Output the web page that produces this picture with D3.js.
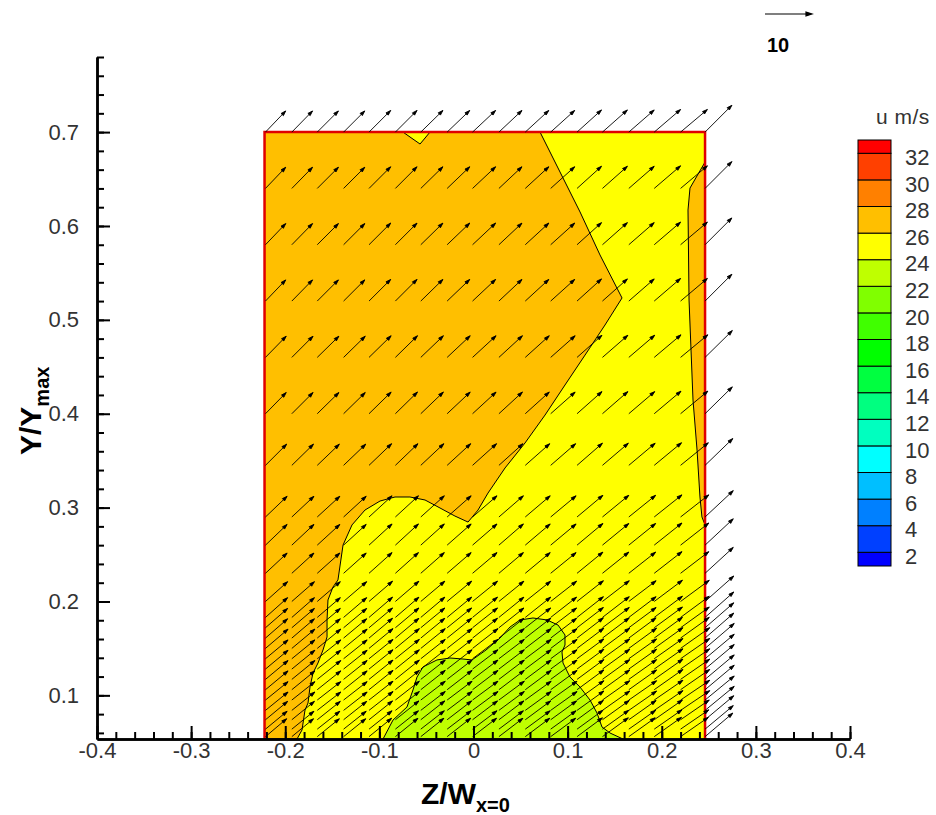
<!DOCTYPE html>
<html>
<head>
<meta charset="utf-8">
<script src="https://cdn.jsdelivr.net/npm/d3@7"></script>
<style>
  body { margin: 0; background: #fff; }
  svg { display: block; font-family: "Liberation Sans", Arial, sans-serif; }
  .narrow { font-family: "Liberation Sans Narrow", "Arial Narrow", "Liberation Sans", sans-serif; }
</style>
</head>
<body>
<script>
'use strict';

var width = 936, height = 815;

// legend levels (u, m/s) and band colours, lowest band first
var levels = [2, 4, 6, 8, 10, 12, 14, 16, 18, 20, 22, 24, 26, 28, 30, 32];
var bandColors = ["#0000ff", "#0040ff", "#0080ff", "#00bfff", "#00ffff", "#00ffbf", "#00ff80", "#00ff40",
  "#00ff00", "#40ff00", "#80ff00", "#bfff00", "#ffff00", "#ffbf00", "#ff8000", "#ff4000", "#ff0000"];

var xTicks = [-0.4, -0.3, -0.2, -0.1, 0, 0.1, 0.2, 0.3, 0.4];
var yTicks = [0.1, 0.2, 0.3, 0.4, 0.5, 0.6, 0.7];

// measured plane: Z/W from -0.222 to 0.246, Y/Ymax up to 0.70
var planeZ = [-0.222, 0.246];
var planeY = [0.0535, 0.70];
var baseU = 25;

// contour bands, [z, y]
var amberMain = [[0.0707, 0.70], [0.0919, 0.6575], [0.1132, 0.6149], [0.1344, 0.5691], [0.1578, 0.5233],
  [0.1397, 0.4945], [0.1185, 0.4625], [0.0972, 0.4306], [0.0760, 0.3986], [0.0547, 0.3688],
  [0.0335, 0.3422], [0.0154, 0.3155], [0.0048, 0.2974], [-0.0058, 0.2846], [-0.0197, 0.291],
  [-0.0356, 0.2996], [-0.0515, 0.3081], [-0.0675, 0.3113], [-0.0834, 0.3113], [-0.0993, 0.307],
  [-0.1153, 0.2974], [-0.1291, 0.2815], [-0.1386, 0.2601], [-0.144, 0.2229], [-0.1493, 0.2154],
  [-0.1546, 0.2016], [-0.1556, 0.1803], [-0.1556, 0.1622], [-0.1599, 0.1483], [-0.1652, 0.1345],
  [-0.1705, 0.1238], [-0.1737, 0.1089], [-0.1758, 0.0918], [-0.179, 0.0844], [-0.1822, 0.0631],
  [-0.1875, 0.0535], [-0.222, 0.0535], [-0.222, 0.70]];
var amberEdge = [[0.246, 0.6681], [0.2300, 0.6404], [0.2279, 0.617], [0.2290, 0.5211], [0.2332, 0.4146],
  [0.2375, 0.3613], [0.2406, 0.3113], [0.2427, 0.29], [0.246, 0.2815]];
var yellowNotch = [[-0.0749, 0.70], [-0.0462, 0.70], [-0.0568, 0.6873]];
var greenCore = [[-0.0961, 0.0535], [-0.0855, 0.0737], [-0.0707, 0.0876], [-0.0643, 0.1057], [-0.06, 0.1195],
  [-0.0537, 0.1302], [-0.0388, 0.1377], [-0.025, 0.1398], [-0.0112, 0.1387], [-0.0016, 0.1377],
  [0.0133, 0.1483], [0.0282, 0.1611], [0.0388, 0.1728], [0.0494, 0.1803], [0.0632, 0.1824],
  [0.0781, 0.1803], [0.0898, 0.1749], [0.0972, 0.1643], [0.0972, 0.1536], [0.094, 0.1462],
  [0.0951, 0.1345], [0.1025, 0.1195], [0.1131, 0.1089], [0.1238, 0.095], [0.1312, 0.0812],
  [0.1365, 0.0663], [0.145, 0.0599], [0.1588, 0.0535]];

var bands = [
  { u: 27, pts: amberMain },
  { u: 27, pts: amberEdge },
  { u: 25, pts: yellowNotch },
  { u: 23, pts: greenCore }
];

// vector grid: column positions and row positions
var colZ = [-0.221, -0.193, -0.166, -0.138, -0.111, -0.083, -0.056, -0.028, -0.001,
  0.027, 0.055, 0.082, 0.110, 0.137, 0.165, 0.192, 0.220, 0.246];
var rowY = [0.70, 0.64, 0.58, 0.52, 0.46, 0.40, 0.345, 0.29, 0.26, 0.23, 0.20, 0.183, 0.172,
  0.161, 0.150, 0.139, 0.128, 0.117, 0.106, 0.095, 0.084, 0.074, 0.064, 0.056];
// in-plane velocity (w, v) along the left side of each row, m/s
var rowW = [4.3, 4.3, 4.3, 4.3, 4.4, 4.4, 4.5, 4.6, 4.6, 4.6, 4.7, 4.7, 4.7, 4.7, 4.8, 4.8,
  4.8, 4.8, 4.8, 4.8, 4.8, 4.7, 4.6, 4.5];
var rowV = [4.5, 4.5, 4.5, 4.5, 4.5, 4.5, 4.5, 4.4, 4.4, 4.3, 4.2, 4.2, 4.1, 4.1, 4.1, 4.0,
  4.0, 4.0, 4.0, 3.9, 3.9, 3.9, 3.8, 3.8];
// extra w and v picked up across the columns
var colW = [0, 0.1, 0.2, 0.2, 0.3, 0.3, 0.4, 0.5, 0.6, 0.6, 0.7, 0.8, 0.9, 1.0, 1.1, 1.3, 1.4, 1.4];
var colV = [0, 0, 0, 0, 0.1, 0.1, 0.1, 0.1, 0.1, 0.1, 0.1, 0.1, 0.2, 0.2, 0.2, 0.3, 0.3, 1.2];

var refVector = 10;

var x = d3.scaleLinear().domain([-0.4, 0.4]).range([97, 850]);
var y = d3.scaleLinear().domain([0.0535, 0.78]).range([739, 57]);
var arrowLen = d3.scaleLinear().domain([0, 10]).range([0, 47]);
var color = d3.scaleThreshold().domain(levels).range(bandColors);

var svg = d3.select("body").append("svg")
  .attr("width", width)
  .attr("height", height);

svg.append("clipPath").attr("id", "plane")
  .append("rect")
  .attr("x", x(planeZ[0]))
  .attr("y", y(planeY[1]))
  .attr("width", x(planeZ[1]) - x(planeZ[0]))
  .attr("height", y(planeY[0]) - y(planeY[1]));

var plane = svg.append("g").attr("clip-path", "url(#plane)");

plane.append("rect")
  .attr("x", x(planeZ[0]))
  .attr("y", y(planeY[1]))
  .attr("width", x(planeZ[1]) - x(planeZ[0]))
  .attr("height", y(planeY[0]) - y(planeY[1]))
  .attr("fill", color(baseU));

var line = d3.line()
  .x(function(d) { return x(d[0]); })
  .y(function(d) { return y(d[1]); })
  .curve(d3.curveLinearClosed);

plane.selectAll(".band")
  .data(bands)
  .enter()
  .append("path")
  .attr("class", "band")
  .attr("d", function(d) { return line(d.pts); })
  .attr("fill", function(d) { return color(d.u); })
  .attr("stroke", "#000")
  .attr("stroke-width", 1);

// red outline of the measured plane (left, top, right)
svg.append("path")
  .attr("d", "M" + x(planeZ[0]) + "," + y(planeY[0])
    + "V" + y(planeY[1]) + "H" + x(planeZ[1]) + "V" + y(planeY[0]))
  .attr("fill", "none")
  .attr("stroke", "#e00000")
  .attr("stroke-width", 2.5);

// vectors
function arrowPath(x0, y0, x1, y1, head) {
  var a = Math.atan2(y1 - y0, x1 - x0);
  var bx = x1 - head * Math.cos(a), by = y1 - head * Math.sin(a);
  var px = -Math.sin(a) * head * 0.32, py = Math.cos(a) * head * 0.32;
  return "M" + x0 + "," + y0 + "L" + x1 + "," + y1
    + "M" + x1 + "," + y1 + "L" + (bx + px) + "," + (by + py)
    + "L" + (bx - px) + "," + (by - py) + "Z";
}

var vectors = [];
rowY.forEach(function(yy, i) {
  colZ.forEach(function(zz, j) {
    vectors.push({ z: zz, y: yy, w: rowW[i] + colW[j], v: rowV[i] + colV[j] });
  });
});

svg.append("g").selectAll("path")
  .data(vectors)
  .enter()
  .append("path")
  .attr("d", function(d) {
    var x0 = x(d.z), y0 = y(d.y);
    return arrowPath(x0, y0, x0 + arrowLen(d.w), y0 - arrowLen(d.v), 5);
  })
  .attr("fill", "#000")
  .attr("stroke", "#000")
  .attr("stroke-width", 0.9);

// axes, ticks pointing inward
function fmt(d) { return d === 0 ? "0" : String(d); }
var minorX = d3.range(-40, 41, 2).map(function(d) { return d / 100; });
var minorY = d3.range(6, 79, 2).map(function(d) { return d / 100; });

var xMinor = svg.append("g").attr("transform", "translate(0,739)")
  .call(d3.axisBottom(x).tickValues(minorX).tickSize(-7).tickSizeOuter(0).tickFormat(""));
var yMinor = svg.append("g").attr("transform", "translate(97,0)")
  .call(d3.axisLeft(y).tickValues(minorY).tickSize(-7).tickSizeOuter(0).tickFormat(""));
var xAxis = svg.append("g").attr("transform", "translate(0,739)")
  .call(d3.axisBottom(x).tickValues(xTicks).tickSize(-13).tickSizeOuter(0).tickPadding(3).tickFormat(fmt));
var yAxis = svg.append("g").attr("transform", "translate(97,0)")
  .call(d3.axisLeft(y).tickValues(yTicks).tickSize(-13).tickSizeOuter(0).tickPadding(18).tickFormat(fmt));

[xMinor, yMinor, xAxis, yAxis].forEach(function(ax) {
  ax.attr("font-family", null).attr("font-size", 22).attr("class", "narrow");
  ax.selectAll(".domain").attr("stroke", "#000").attr("stroke-width", 2.5);
  ax.selectAll(".tick line").attr("stroke", "#000").attr("stroke-width", 2);
  ax.selectAll(".tick text").attr("fill", "#333");
});

// axis titles
var xt = svg.append("text")
  .attr("x", 421)
  .attr("y", 804)
  .attr("font-weight", "bold")
  .attr("font-size", 30)
  .attr("fill", "#000");
xt.append("tspan").text("Z/W");
xt.append("tspan").attr("font-size", 20).attr("dy", 8).text("x=0");

var yt = svg.append("text")
  .attr("transform", "translate(41,455) rotate(-90)")
  .attr("font-weight", "bold")
  .attr("font-size", 30)
  .attr("fill", "#000");
yt.append("tspan").text("Y/Y");
yt.append("tspan").attr("font-size", 20).attr("dy", 8).text("max");

// colour legend
var legendY = d3.scaleLinear().domain([32, 2]).range([153.3, 552.3]);
var legend = svg.append("g");
var legendBoxes = bandColors.map(function(c, i) {
  var lo = i === 0 ? null : levels[i - 1];
  var hi = i < levels.length ? levels[i] : null;
  return {
    color: c,
    top: hi === null ? 140 : legendY(hi),
    bottom: lo === null ? 566 : legendY(lo)
  };
});

legend.selectAll("rect")
  .data(legendBoxes)
  .enter()
  .append("rect")
  .attr("x", 858)
  .attr("y", function(d) { return d.top; })
  .attr("width", 33)
  .attr("height", function(d) { return d.bottom - d.top; })
  .attr("fill", function(d) { return d.color; })
  .attr("stroke", "#000")
  .attr("stroke-width", 1);

legend.selectAll("text.lab")
  .data(levels)
  .enter()
  .append("text")
  .attr("class", "lab narrow")
  .attr("x", 905)
  .attr("y", function(d) { return legendY(d) + 4; })
  .attr("dy", "0.35em")
  .attr("font-size", 22)
  .attr("fill", "#333")
  .text(function(d) { return d; });

legend.append("text")
  .attr("class", "narrow")
  .attr("x", 876)
  .attr("y", 124)
  .attr("font-size", 21)
  .attr("letter-spacing", 0.5)
  .attr("fill", "#333")
  .text("u m/s");

// reference vector
svg.append("path")
  .attr("d", arrowPath(765, 14, 765 + arrowLen(refVector), 14, 6))
  .attr("fill", "#000")
  .attr("stroke", "#000")
  .attr("stroke-width", 1.2);
svg.append("text")
  .attr("x", 767)
  .attr("y", 52)
  .attr("font-weight", "bold")
  .attr("font-size", 20)
  .attr("fill", "#000")
  .text(refVector);
</script>
</body>
</html>
